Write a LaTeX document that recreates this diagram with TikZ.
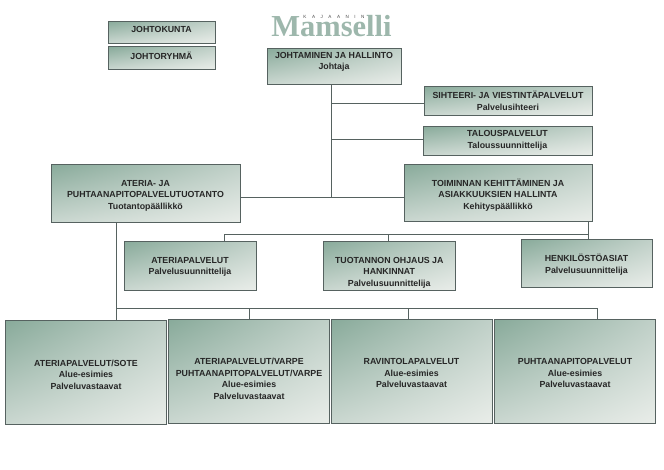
\documentclass[tikz,border=0pt]{standalone}
\usepackage{fontspec}
\setmainfont{Liberation Sans}
\newfontfamily\logofont{Liberation Serif}
\usepackage{xcolor}
\usetikzlibrary{arrows.meta, positioning, shadings}
\definecolor{boxdark}{HTML}{88AA9A}
\definecolor{boxmid}{HTML}{C0D0C8}
\definecolor{boxlow}{HTML}{CAD7D0}
\definecolor{boxlight}{HTML}{E9EDE9}
\definecolor{boxline}{HTML}{566260}
\definecolor{logogreen}{HTML}{9DB7AC}

\begin{document}
\begin{tikzpicture}[
  x=1pt, y=-1pt,
  box/.style  = {rectangle, draw=boxline, line width=0.8pt, inner sep=0pt,
                 shading=bilinear interpolation,
                 upper left=boxdark, upper right=boxmid,
                 lower left=boxlow, lower right=boxlight},
  lbl/.style  = {align=center, inner sep=0pt, text=black!85,
                 font=\bfseries\fontsize{8.8}{11.6}\selectfont},
  conn/.style = {draw=boxline, line width=0.8pt},
]
\useasboundingbox (0,0) rectangle (664,469);

\node[text=logogreen, font=\logofont\bfseries\fontsize{30.5}{30}\selectfont, inner sep=0pt] (logo) at (331.5,26.5) {Mamselli};
\node[font=\fontsize{4.6}{6}\selectfont\addfontfeature{LetterSpace=120}, text=black!70, inner sep=0pt] (logotop) at (334,17) {KAJAANIN};

\node[box, minimum width=107pt, minimum height=22pt, label={[lbl, yshift=2.5pt]center:JOHTOKUNTA}] (kunta) at (161.5,32) {};
\node[box, minimum width=107pt, minimum height=22.5pt, label={[lbl, yshift=2pt]center:JOHTORYHMÄ}] (ryhma) at (161.5,58) {};
\node[box, minimum width=134pt, minimum height=36pt, label={[lbl, yshift=4pt]center:JOHTAMINEN JA HALLINTO\\Johtaja}] (johto) at (334,66) {};

\node[box, minimum width=168pt, minimum height=29pt, label={[lbl]center:SIHTEERI- JA VIESTINTÄPALVELUT\\Palvelusihteeri}] (siht) at (508,100.5) {};
\node[box, minimum width=169pt, minimum height=29pt, label={[lbl]center:TALOUSPALVELUT\\Taloussuunnittelija}] (talous) at (507.5,140.5) {};
\node[box, minimum width=188pt, minimum height=57pt, label={[lbl, yshift=-2.5pt]center:TOIMINNAN KEHITTÄMINEN JA\\ASIAKKUUKSIEN HALLINTA\\Kehityspäällikkö}] (kehitys) at (498,192.5) {};
\node[box, minimum width=189pt, minimum height=58pt, label={[lbl, yshift=-2.5pt]center:ATERIA- JA\\PUHTAANAPITOPALVELUTUOTANTO\\Tuotantopäällikkö}] (tuotanto) at (145.5,193) {};

\node[box, minimum width=132pt, minimum height=49pt, label={[lbl, yshift=-1.5pt]center:ATERIAPALVELUT\\Palvelusuunnittelija}] (ateria) at (190,265.5) {};
\node[box, minimum width=131.5pt, minimum height=49.5pt, label={[lbl, yshift=-7pt]center:TUOTANNON OHJAUS JA\\HANKINNAT\\Palvelusuunnittelija}] (ohjaus) at (389.25,265.75) {};
\node[box, minimum width=131pt, minimum height=48pt, label={[lbl, yshift=-1.5pt]center:HENKILÖSTÖASIAT\\Palvelusuunnittelija}] (henk) at (586.5,263) {};

\node[box, minimum width=161pt, minimum height=104pt, label={[lbl, yshift=-2.5pt]center:ATERIAPALVELUT/SOTE\\Alue-esimies\\Palveluvastaavat}] (sote) at (86,372) {};
\node[box, minimum width=161pt, minimum height=104pt, label={[lbl, yshift=-8pt]center:ATERIAPALVELUT/VARPE\\PUHTAANAPITOPALVELUT/VARPE\\Alue-esimies\\Palveluvastaavat}] (varpe) at (249,371) {};
\node[box, minimum width=161pt, minimum height=104pt, label={[lbl, yshift=-2pt]center:RAVINTOLAPALVELUT\\Alue-esimies\\Palveluvastaavat}] (ravintola) at (411.5,371) {};
\node[box, minimum width=161pt, minimum height=104pt, label={[lbl, yshift=-2pt]center:PUHTAANAPITOPALVELUT\\Alue-esimies\\Palveluvastaavat}] (puhdas) at (575,371) {};

\coordinate (trunk) at (331,197);
\coordinate (rail) at (588,234);
\coordinate (base) at (116,308);

\draw[conn] (johto.south -| trunk) -- (trunk);
\draw[conn] (siht.west |- 0,103) -- (trunk |- 0,103);
\draw[conn] (talous.west |- 0,139) -- (trunk |- 0,139);
\draw[conn] (tuotanto.east |- trunk) -- (kehitys.west |- trunk);

\draw[conn] (kehitys.south -| rail) -- (henk.north -| rail);
\draw[conn] (rail) -- (224,234) -- (ateria.north -| 224,0);
\draw[conn] (388,234) -- (ohjaus.north -| 388,0);

\draw[conn] (tuotanto.south -| base) -- (sote.north -| base);
\draw[conn] (base) -- (597,308) -- (puhdas.north -| 597,0);
\draw[conn] (249,308) -- (varpe.north -| 249,0);
\draw[conn] (408,308) -- (ravintola.north -| 408,0);

\end{tikzpicture}
\end{document}
